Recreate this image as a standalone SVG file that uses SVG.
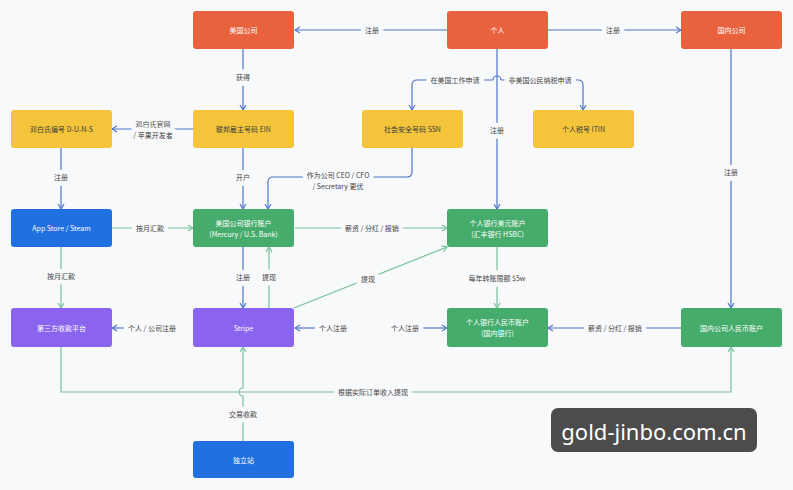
<svg xmlns="http://www.w3.org/2000/svg" width="793" height="490" viewBox="0 0 793 490">
<style>
.o{fill:#E8623E}.y{fill:#F4C53A}.b{fill:#2070E0}.g{fill:#45AC6C}.p{fill:#8A63EE}
.t{font-family:"Noto Sans CJK SC","Noto Sans",sans-serif;font-size:7px;text-anchor:middle;dominant-baseline:central}
.tw{fill:#ffffff}.td{fill:#3a3a3a}
.l{font-family:"Noto Sans CJK SC","Noto Sans",sans-serif;font-size:7px;text-anchor:middle;dominant-baseline:central;fill:#444;paint-order:stroke;stroke:#f8f9fb;stroke-width:9px;stroke-linejoin:round}
.cb{fill:none;stroke:#4F74C9;stroke-width:1.2}
.cg{fill:none;stroke:#74C29A;stroke-width:1.2}
.ab{marker-end:url(#mb)}.ag{marker-end:url(#mg)}
</style>
<defs>
<marker id="mb" viewBox="0 0 8 8" refX="7" refY="4" markerWidth="8" markerHeight="8" markerUnits="userSpaceOnUse" orient="auto"><path d="M2,1 L7,4 L2,7" fill="none" stroke="#4F74C9" stroke-width="1.2"/></marker>
<marker id="mg" viewBox="0 0 8 8" refX="7" refY="4" markerWidth="8" markerHeight="8" markerUnits="userSpaceOnUse" orient="auto"><path d="M2,1 L7,4 L2,7" fill="none" stroke="#74C29A" stroke-width="1.2"/></marker>
</defs>
<rect width="793" height="490" fill="#f8f9fb"/>
<g id="connectors">
<path class="cb ab" d="M447,30 H295"/>
<path class="cb ab" d="M548,30 H681"/>
<path class="cb ab" d="M243,49 V110"/>
<path class="cb ab" d="M193,129 H112"/>
<path class="cb ab" d="M497,49 V209"/>
<path class="cb ab" d="M493,80 H417 Q412,80 412,85 V110"/>
<path class="cb ab" d="M501,80 H578 Q583,80 583,85 V110"/>
<path class="cb" d="M493,80 a4,4 0 0 1 8,0"/>
<path class="cb ab" d="M61,148 V209"/>
<path class="cb ab" d="M243,148 V209"/>
<path class="cb ab" d="M412,148 V172 Q412,177 407,177 H273 Q268,177 268,182 V209"/>
<path class="cg ag" d="M112,228 H193"/>
<path class="cg ag" d="M61,247 V308"/>
<path class="cg ag" d="M295,228 H447"/>
<path class="cb ab" d="M243,247 V308"/>
<path class="cg ag" d="M269,308 V247"/>
<path class="cg ag" d="M294,308 L447,247"/>
<path class="cg ag" d="M497,247 V308"/>
<path class="cb ab" d="M320,328 H295"/>
<path class="cb ab" d="M416,328 H447"/>
<path class="cb ab" d="M681,328 H548"/>
<path class="cb ab" d="M731,49 V308"/>
<path class="cb ab" d="M138,328 H112"/>
<path class="cg ag" d="M61,347 V392 H731 V347"/>
<path class="cg ag" d="M243,441 V396 a4,4 0 0 1 0,-8 V347"/>
<text class="l" x="372" y="30">注册</text>
<text class="l" x="613" y="30">注册</text>
<text class="l" x="243" y="77">获得</text>
<text class="l" x="153" y="124">邓白氏官网</text>
<text class="l" x="153" y="135">/ 苹果开发者</text>
<text class="l" x="455" y="80">在美国工作申请</text>
<text class="l" x="540" y="80">非美国公民纳税申请</text>
<text class="l" x="497" y="130">注册</text>
<text class="l" x="61" y="177">注册</text>
<text class="l" x="243" y="177">开户</text>
<text class="l" x="338" y="175">作为公司 CEO / CFO</text>
<text class="l" x="338" y="186">/ Secretary 更优</text>
<text class="l" x="731" y="172">注册</text>
<text class="l" x="150" y="228">按月汇款</text>
<text class="l" x="61" y="276">按月汇款</text>
<text class="l" x="372" y="228">薪资 / 分红 / 报销</text>
<text class="l" x="243" y="277">注册</text>
<text class="l" x="269" y="277">提现</text>
<text class="l" x="368" y="279">提现</text>
<text class="l" x="497" y="278">每年转账限额 $5w</text>
<text class="l" x="152" y="328">个人 / 公司注册</text>
<text class="l" x="333" y="328">个人注册</text>
<text class="l" x="405" y="328">个人注册</text>
<text class="l" x="615" y="328">薪资 / 分红 / 报销</text>
<text class="l" x="373" y="392">根据实际订单收入提现</text>
<text class="l" x="243" y="414">交易收款</text>
</g>
<g id="n-us-company"><rect class="o" x="193" y="11" width="101" height="38" rx="3"/><text class="t tw" x="243.5" y="30">美国公司</text></g>
<g id="n-person"><rect class="o" x="447" y="11" width="101" height="38" rx="3"/><text class="t tw" x="497.5" y="30">个人</text></g>
<g id="n-cn-company"><rect class="o" x="681" y="11" width="101" height="38" rx="3"/><text class="t tw" x="731.5" y="30">国内公司</text></g>
<g id="n-duns"><rect class="y" x="11" y="110" width="101" height="38" rx="3"/><text class="t td" x="61.5" y="129">邓白氏编号 D-U-N-S</text></g>
<g id="n-ein"><rect class="y" x="193" y="110" width="101" height="38" rx="3"/><text class="t td" x="243.5" y="129">联邦雇主号码 EIN</text></g>
<g id="n-ssn"><rect class="y" x="362" y="110" width="101" height="38" rx="3"/><text class="t td" x="412.5" y="129">社会安全号码 SSN</text></g>
<g id="n-itin"><rect class="y" x="533" y="110" width="101" height="38" rx="3"/><text class="t td" x="583.5" y="129">个人税号 ITIN</text></g>
<g id="n-appstore"><rect class="b" x="11" y="209" width="101" height="38" rx="3"/><text class="t tw" x="61.5" y="228">App Store / Steam</text></g>
<g id="n-us-bank"><rect class="g" x="193" y="209" width="101" height="38" rx="3"/><text class="t tw" x="243.5" y="223">美国公司银行账户</text><text class="t tw" x="243.5" y="234">(Mercury / U.S. Bank)</text></g>
<g id="n-usd-account"><rect class="g" x="447" y="209" width="101" height="38" rx="3"/><text class="t tw" x="497.5" y="223">个人银行美元账户</text><text class="t tw" x="497.5" y="234">(汇丰银行 HSBC)</text></g>
<g id="n-third-party"><rect class="p" x="11" y="308" width="101" height="39" rx="3"/><text class="t tw" x="61.5" y="328">第三方收款平台</text></g>
<g id="n-stripe"><rect class="p" x="193" y="308" width="101" height="39" rx="3"/><text class="t tw" x="243.5" y="328">Stripe</text></g>
<g id="n-rmb-account"><rect class="g" x="447" y="308" width="101" height="39" rx="3"/><text class="t tw" x="497.5" y="322">个人银行人民币账户</text><text class="t tw" x="497.5" y="333">(国内银行)</text></g>
<g id="n-cn-rmb-account"><rect class="g" x="681" y="308" width="101" height="39" rx="3"/><text class="t tw" x="731.5" y="328">国内公司人民币账户</text></g>
<g id="n-standalone"><rect class="b" x="193" y="441" width="101" height="37" rx="3"/><text class="t tw" x="243.5" y="459.5">独立站</text></g>
<g id="watermark"><rect x="551" y="408" width="206" height="44" rx="7" fill="#333333" fill-opacity="0.88"/><text x="654" y="431" font-family="'Noto Sans','Open Sans',sans-serif" font-size="22" fill="#ffffff" text-anchor="middle" dominant-baseline="central">gold-jinbo.com.cn</text></g>
</svg>
